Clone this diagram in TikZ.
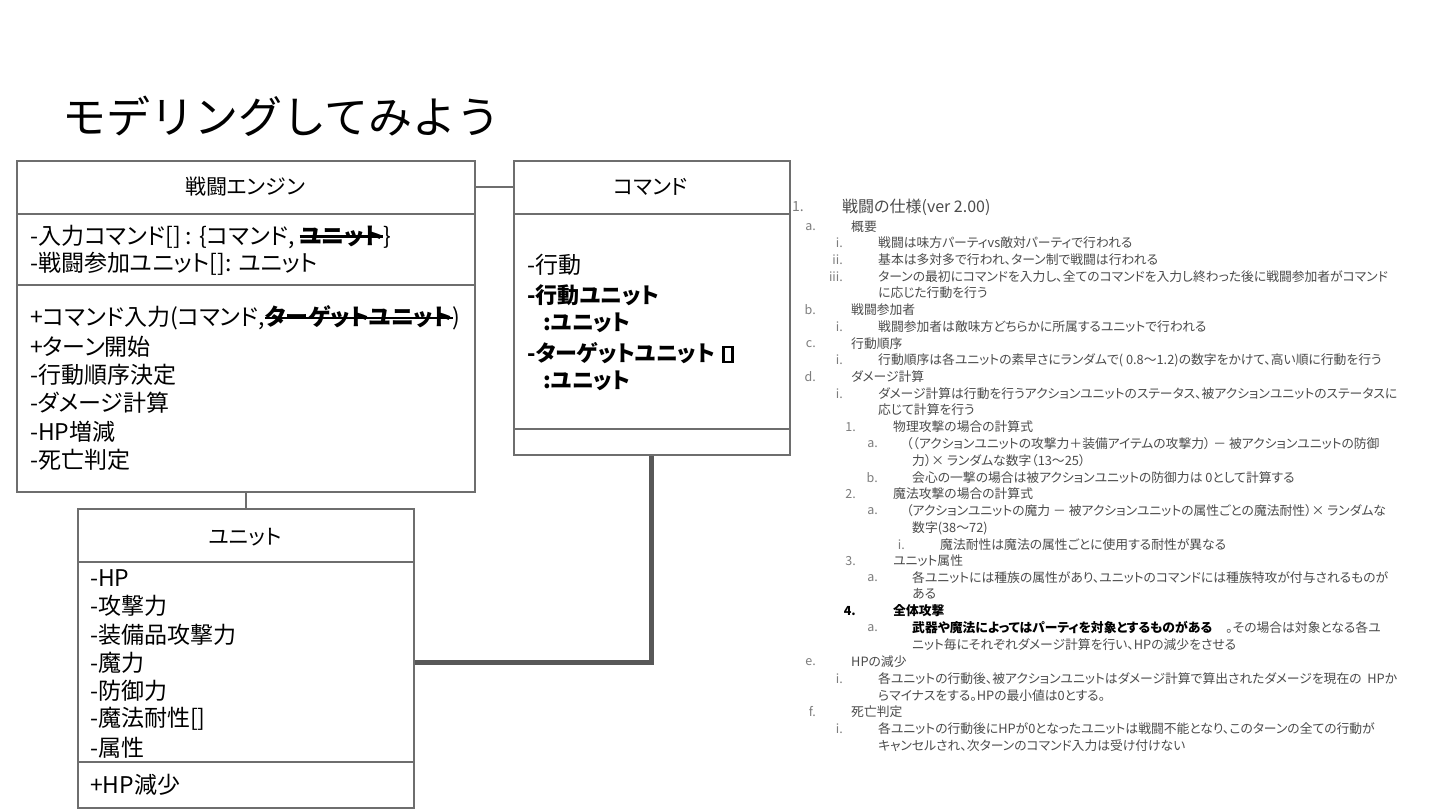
\documentclass[tikz,border=0pt]{standalone}
\usepackage{fontspec}
\setmainfont{Noto Sans CJK JP}[RawFeature={+palt}]
\newfontfamily\jpmono{Noto Sans CJK JP}
\definecolor{boxgray}{RGB}{110,110,110}
\definecolor{thickgray}{RGB}{88,88,88}
\definecolor{lsttext}{RGB}{75,75,75}
\definecolor{lstlab}{RGB}{125,125,125}
\newcommand\strk[1]{\setbox0=\hbox{#1}\rlap{\copy0}\rule[0.3em]{\wd0}{0.1em}}
\newcommand\itm[5]{%
  \node[lab,anchor=east] (la#1) at (#2,#1) {#3};
  \node[lst,anchor=west] (tx#1) at (#4,#1) {#5};}
\tikzset{
  umlbox/.style={draw=boxgray,line width=1.6pt,anchor=north west,inner sep=0pt},
  divline/.style={draw=boxgray,line width=1.6pt},
  conn/.style={draw=boxgray,line width=1.4pt},
  thickconn/.style={draw=thickgray,line width=5pt},
  tofubox/.style={draw=black,line width=2.6pt,minimum width=9pt,minimum height=15pt,inner sep=0pt},
  boxtitle/.style={inner sep=0pt,font=\fontsize{21}{24}\selectfont},
  boxtext/.style={inner sep=0pt,anchor=west,font=\fontsize{23}{26}\selectfont},
  boldtext/.style={inner sep=0pt,anchor=west,font=\fontsize{22}{26}\selectfont\bfseries},
  lst/.style={inner sep=0pt,text=lsttext,font=\fontsize{12.8}{14}\selectfont},
  lab/.style={inner sep=0pt,text=lstlab,font=\fontsize{12.5}{14}\selectfont},
}
\begin{document}
\begin{tikzpicture}[x=1pt,y=-1pt]
\useasboundingbox[fill=white] (0,0) rectangle (1440,810);
% title
\node[inner sep=0pt,anchor=west,font=\jpmono\fontsize{44}{48}\selectfont] (ttl) at (62,116) {モデリングしてみよう};
% boxes
\node[umlbox,minimum width=458,minimum height=331] (eng) at (16,160) {};
\node[umlbox,minimum width=276,minimum height=294] (cmd) at (513,160) {};
\node[umlbox,minimum width=336,minimum height=299] (unit) at (77,508) {};
% dividers
\draw[divline] ([yshift=-54pt]eng.north west) -- ([yshift=-54pt]eng.north east);
\draw[divline] ([yshift=-125pt]eng.north west) -- ([yshift=-125pt]eng.north east);
\draw[divline] ([yshift=-54pt]cmd.north west) -- ([yshift=-54pt]cmd.north east);
\draw[divline] ([yshift=-269pt]cmd.north west) -- ([yshift=-269pt]cmd.north east);
\draw[divline] ([yshift=-54pt]unit.north west) -- ([yshift=-54pt]unit.north east);
\draw[divline] ([yshift=-254pt]unit.north west) -- ([yshift=-254pt]unit.north east);
% connectors
\draw[conn] ([yshift=-27pt]eng.north east) -- ([yshift=-27pt]cmd.north west);
\draw[conn] (eng.south) -- (unit.north);
\draw[thickconn] (cmd.south) |- ([yshift=-4pt]unit.east);
% engine texts
\node[boxtitle] (engT) at (245,187) {戦闘エンジン};
\node[boxtext] (e1) at (30,237) {-入力コマンド[] : \{コマンド, \strk{\bfseries ユニット}\}};
\node[boxtext] (e2) at (30,264) {-戦闘参加ユニット[]: ユニット};
\node[boxtext] (e3) at (30,318) {+コマンド入力(コマンド,\strk{\bfseries ターゲットユニット})};
\node[boxtext] (e4) at (30,347) {+ターン開始};
\node[boxtext] (e5) at (30,375) {-行動順序決定};
\node[boxtext] (e6) at (30,403) {-ダメージ計算};
\node[boxtext] (e7) at (30,432) {-HP増減};
\node[boxtext] (e8) at (30,460) {-死亡判定};
% command texts
\node[boxtitle] (cmdT) at (651,187) {コマンド};
\node[boxtext] (c1) at (527,265) {-行動};
\node[boldtext] (c2) at (527,295) {-行動ユニット};
\node[boldtext] (c3) at (543,323) {:ユニット};
\node[boldtext] (c4) at (527,353) {-ターゲットユニット};
\node[tofubox,anchor=west] (tofu) at ([xshift=7pt,yshift=-1.5pt]c4.east) {};
\node[boldtext] (c5) at (543,381) {:ユニット};
% unit texts
\node[boxtitle] (unitT) at (245,537) {ユニット};
\node[boxtext] (u1) at (90,578) {-HP};
\node[boxtext] (u2) at (90,606) {-攻撃力};
\node[boxtext] (u3) at (90,635) {-装備品攻撃力};
\node[boxtext] (u4) at (90,663) {-魔力};
\node[boxtext] (u5) at (90,691) {-防御力};
\node[boxtext] (u6) at (90,719) {-魔法耐性[]};
\node[boxtext] (u7) at (90,748) {-属性};
\node[boxtext] (u8) at (90,785) {+HP減少};
% specification list
\node[lab,anchor=west,font=\fontsize{14}{16}\selectfont] (la207) at (792,207) {1.};
\node[lst,anchor=west,font=\fontsize{16}{18}\selectfont] (tx207) at (842,207) {戦闘の仕様(ver 2.00)};
\itm{227}{816}{a.}{851}{概要}
\itm{243}{843}{i.}{878}{戦闘は味方パーティvs敵対パーティで行われる}
\itm{260}{843}{ii.}{878}{基本は多対多で行われ、ターン制で戦闘は行われる}
\itm{277}{843}{iii.}{878}{ターンの最初にコマンドを入力し、全てのコマンドを入力し終わった後に戦闘参加者がコマンド}
\node[lst,anchor=west] (tx293) at (878,293) {に応じた行動を行う};
\itm{310}{816}{b.}{851}{戦闘参加者}
\itm{327}{843}{i.}{878}{戦闘参加者は敵味方どちらかに所属するユニットで行われる}
\itm{344}{816}{c.}{851}{行動順序}
\itm{360}{843}{i.}{878}{行動順序は各ユニットの素早さにランダムで( 0.8～1.2)の数字をかけて、高い順に行動を行う}
\itm{377}{816}{d.}{851}{ダメージ計算}
\itm{394}{843}{i.}{878}{ダメージ計算は行動を行うアクションユニットのステータス、被アクションユニットのステータスに}
\node[lst,anchor=west] (tx410) at (878,410) {応じて計算を行う};
\itm{427}{856}{1.}{893}{物理攻撃の場合の計算式}
\itm{444}{878}{a.}{906}{（（アクションユニットの攻撃力＋装備アイテムの攻撃力） － 被アクションユニットの防御}
\node[lst,anchor=west] (tx461) at (912,461) {力）× ランダムな数字（13～25）};
\itm{478}{878}{b.}{912}{会心の一撃の場合は被アクションユニットの防御力は 0として計算する}
\itm{494}{856}{2.}{893}{魔法攻撃の場合の計算式}
\itm{511}{878}{a.}{906}{（アクションユニットの魔力 － 被アクションユニットの属性ごとの魔法耐性）× ランダムな}
\node[lst,anchor=west] (tx528) at (912,528) {数字(38～72)};
\itm{545}{905}{i.}{940}{魔法耐性は魔法の属性ごとに使用する耐性が異なる}
\itm{561}{856}{3.}{893}{ユニット属性}
\itm{578}{878}{a.}{912}{各ユニットには種族の属性があり、ユニットのコマンドには種族特攻が付与されるものが}
\node[lst,anchor=west] (tx594) at (912,594) {ある};
\node[lab,anchor=east,text=black,font=\fontsize{12.5}{14}\selectfont\bfseries] (la611) at (856,611) {4.};
\node[lst,anchor=west,text=black,font=\fontsize{12.8}{14}\selectfont\bfseries] (tx611) at (893,611) {全体攻撃};
\itm{628}{878}{a.}{912}{{\color{black}\bfseries 武器や魔法によってはパーティを対象とするものがある}\hspace{14pt}。その場合は対象となる各ユ}
\node[lst,anchor=west] (tx645) at (912,645) {ニット毎にそれぞれダメージ計算を行い、HPの減少をさせる};
\itm{662}{816}{e.}{851}{HPの減少}
\itm{679}{843}{i.}{878}{各ユニットの行動後、被アクションユニットはダメージ計算で算出されたダメージを現在の\ \ HPか}
\node[lst,anchor=west] (tx696) at (878,696) {らマイナスをする。HPの最小値は0とする。};
\itm{712}{816}{f.}{851}{死亡判定}
\itm{729}{843}{i.}{878}{各ユニットの行動後にHPが0となったユニットは戦闘不能となり、このターンの全ての行動が}
\node[lst,anchor=west] (tx746) at (878,746) {キャンセルされ、次ターンのコマンド入力は受け付けない};
\end{tikzpicture}
\end{document}
